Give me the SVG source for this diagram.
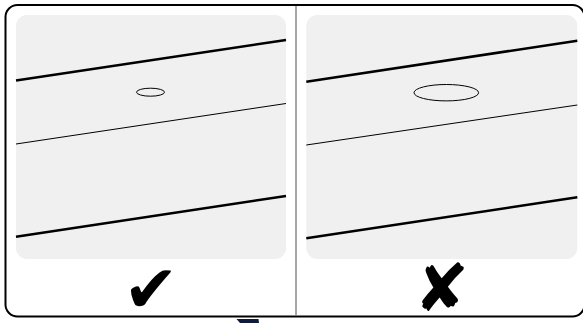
<svg xmlns="http://www.w3.org/2000/svg" width="583" height="323" viewBox="0 0 583 323">
<style>
.panel{fill:#f0f0f0}
.thick{stroke:#000;stroke-width:2.5;fill:none}
.thin{stroke:#000;stroke-width:1;fill:none}
.hole{stroke:#000;stroke-width:1;fill:none}
.mark{font-family:"DejaVu Sans",sans-serif;font-size:66px;fill:#000;text-anchor:middle}
</style>
<rect width="583" height="323" fill="#fff"/>
<g id="frame">
<rect x="5.5" y="5" width="579" height="311.5" rx="12" fill="#fff" stroke="#000" stroke-width="2"/>
<line x1="296" y1="6" x2="296" y2="315.5" stroke="#888" stroke-width="1.5"/>
</g>
<g id="panel-good">
<rect class="panel" x="16" y="15" width="270" height="244" rx="11"/>
<line class="thick" x1="16" y1="80.5" x2="286" y2="40"/>
<line class="thin" x1="16" y1="144" x2="286" y2="103.5"/>
<line class="thick" x1="16" y1="236.7" x2="286" y2="196"/>
<ellipse class="hole" cx="150.5" cy="92.2" rx="14" ry="4"/>
<text class="mark" x="151" y="312">✔</text>
</g>
<g id="panel-bad">
<rect class="panel" x="306.3" y="15" width="271" height="244" rx="11"/>
<line class="thick" x1="306.3" y1="81.7" x2="577.3" y2="40.7"/>
<line class="thin" x1="306.3" y1="145" x2="577.3" y2="105"/>
<line class="thick" x1="306.3" y1="238.3" x2="577.3" y2="197.3"/>
<ellipse class="hole" cx="446.3" cy="92.7" rx="32.3" ry="8.2"/>
<text class="mark" x="441.7" y="311">✘</text>
</g>
<polygon points="236.5,319 258.5,319 259,323 240,323" fill="#0f1a3c"/>
</svg>
